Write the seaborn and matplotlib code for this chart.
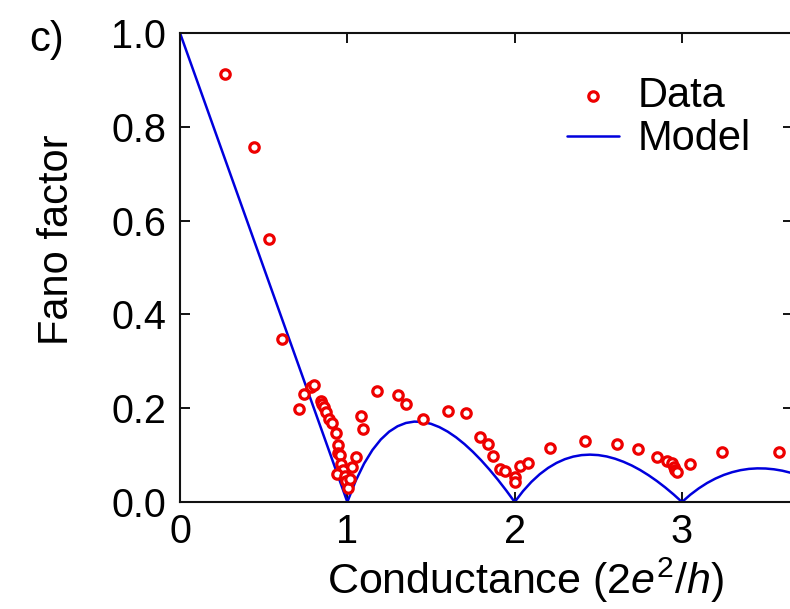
import matplotlib
matplotlib.use("Agg")
import matplotlib.pyplot as plt
import seaborn as sns
import pandas as pd

# Measured Fano factor vs. conductance (units of 2e^2/h)
data_g = [0.27, 0.44, 0.53, 0.61,
          0.71, 0.74, 0.78, 0.80, 0.84, 0.85, 0.86, 0.87, 0.89, 0.91, 0.93,
          0.945, 0.945, 0.955, 0.965, 0.975, 0.94, 0.985, 0.995, 1.005,
          1.015, 1.03, 1.05, 1.08, 1.095,
          1.18, 1.30, 1.35, 1.45, 1.60, 1.71, 1.79, 1.84, 1.87, 1.91, 1.94,
          2.00, 2.005, 2.03, 2.08, 2.21, 2.42, 2.61, 2.74, 2.85,
          2.91, 2.94, 2.95, 2.96, 2.97, 3.05, 3.24, 3.58]
data_f = [0.913, 0.757, 0.561, 0.348,
          0.198, 0.230, 0.245, 0.249, 0.216, 0.208, 0.202, 0.192, 0.178, 0.168, 0.148,
          0.121, 0.104, 0.100, 0.082, 0.068, 0.060, 0.055, 0.045, 0.030,
          0.050, 0.074, 0.095, 0.184, 0.155,
          0.237, 0.228, 0.209, 0.178, 0.195, 0.190, 0.138, 0.124, 0.098, 0.071, 0.067,
          0.054, 0.043, 0.077, 0.084, 0.116, 0.129, 0.124, 0.114, 0.095,
          0.088, 0.084, 0.075, 0.068, 0.065, 0.080, 0.107, 0.106]

# Model curve for the quantum point contact
model_g = [0.0, 1.0, 1.05, 1.1, 1.15, 1.2, 1.25, 1.3, 1.35, 1.4, 1.45, 1.5,
           1.55, 1.6, 1.65, 1.7, 1.75, 1.8, 1.85, 1.9, 1.95, 2.0,
           2.05, 2.1, 2.15, 2.2, 2.25, 2.3, 2.35, 2.4, 2.45, 2.5, 2.55, 2.6,
           2.65, 2.7, 2.75, 2.8, 2.85, 2.9, 2.95, 3.0,
           3.05, 3.1, 3.15, 3.2, 3.25, 3.3, 3.35, 3.4, 3.45, 3.5, 3.55, 3.6,
           3.65, 3.7]
model_f = [1.0, 0.0, 0.0452, 0.0818, 0.1109, 0.1333, 0.1500, 0.1615, 0.1685,
           0.1714, 0.1707, 0.1667, 0.1597, 0.1500, 0.1379, 0.1235, 0.1071,
           0.0889, 0.0689, 0.0474, 0.0244, 0.0,
           0.0232, 0.0429, 0.0593, 0.0727, 0.0833, 0.0913, 0.0968, 0.1000,
           0.1010, 0.1000, 0.0971, 0.0923, 0.0858, 0.0778, 0.0682, 0.0571,
           0.0447, 0.0310, 0.0161, 0.0,
           0.0156, 0.0290, 0.0405, 0.0500, 0.0577, 0.0636, 0.0679, 0.0706,
           0.0717, 0.0714, 0.0697, 0.0667, 0.0623, 0.0568]

x_ticks = [0, 1, 2, 3]
y_ticks = [0.0, 0.2, 0.4, 0.6, 0.8, 1.0]
y_tick_labels = ["0.0", "0.2", "0.4", "0.6", "0.8", "1.0"]

sns.set_theme(style="ticks")
plt.rcParams["font.family"] = ["Liberation Sans", "DejaVu Sans"]
plt.rcParams["mathtext.fontset"] = "custom"
plt.rcParams["mathtext.rm"] = "Liberation Sans"
plt.rcParams["mathtext.it"] = "Liberation Sans:italic"
for key in ["text.color", "axes.labelcolor", "xtick.color", "ytick.color",
            "xtick.labelcolor", "ytick.labelcolor"]:
    plt.rcParams[key] = "black"

TICK_FS = 28.5
LABEL_FS = 30
fig = plt.figure(figsize=(7.9, 6.09), dpi=100)
ax = fig.add_axes([180 / 790, 107 / 609, 613 / 790, 469 / 609])

df_data = pd.DataFrame({"g": data_g, "f": data_f})
df_model = pd.DataFrame({"g": model_g, "f": model_f})

sns.lineplot(data=df_model, x="g", y="f", ax=ax, color="#0000dd",
             linewidth=1.8, sort=False, label="Model", zorder=2)
sns.scatterplot(data=df_data, x="g", y="f", ax=ax, marker="o",
                facecolors="white", edgecolor="#ee0000", linewidth=2.3,
                s=46, label="Data", zorder=3)

ax.set_xlim(0, 613 / 167.33)
ax.set_ylim(0, 1.0)
ax.set_xticks(x_ticks)
ax.set_xticklabels([str(t) for t in x_ticks])
ax.set_yticks(y_ticks)
ax.set_yticklabels(y_tick_labels)
ax.tick_params(direction="in", top=True, right=True, length=7, width=1.3,
               labelsize=TICK_FS, colors="black")
ax.tick_params(axis="x", pad=8)
ax.tick_params(axis="y", pad=10)
for sp in ax.spines.values():
    sp.set_visible(True)
    sp.set_linewidth(1.5)
    sp.set_color("#111111")

ax.set_xlabel(r"Conductance (2$e^{\mathrm{2}}$/$h$)", fontsize=31)
ax.set_ylabel("Fano factor", fontsize=LABEL_FS)
ax.xaxis.set_label_coords(0.564, -0.166)
ax.yaxis.label.set_va("center")
ax.xaxis.label.set_va("center")
ax.yaxis.set_label_coords(-0.2, 0.56)

handles, labels = ax.get_legend_handles_labels()
order = [labels.index("Data"), labels.index("Model")]
ax.legend([handles[i] for i in order], [labels[i] for i in order],
          loc="upper left", bbox_to_anchor=(0.631, 0.908), frameon=False,
          fontsize=LABEL_FS, borderpad=0, borderaxespad=0, labelspacing=0.08,
          handlelength=1.25, handletextpad=0.45)

fig.text(47 / 790, 1 - 40 / 609, "c)", fontsize=LABEL_FS, ha="center", va="center")

fig.savefig("out.png", dpi=100)
